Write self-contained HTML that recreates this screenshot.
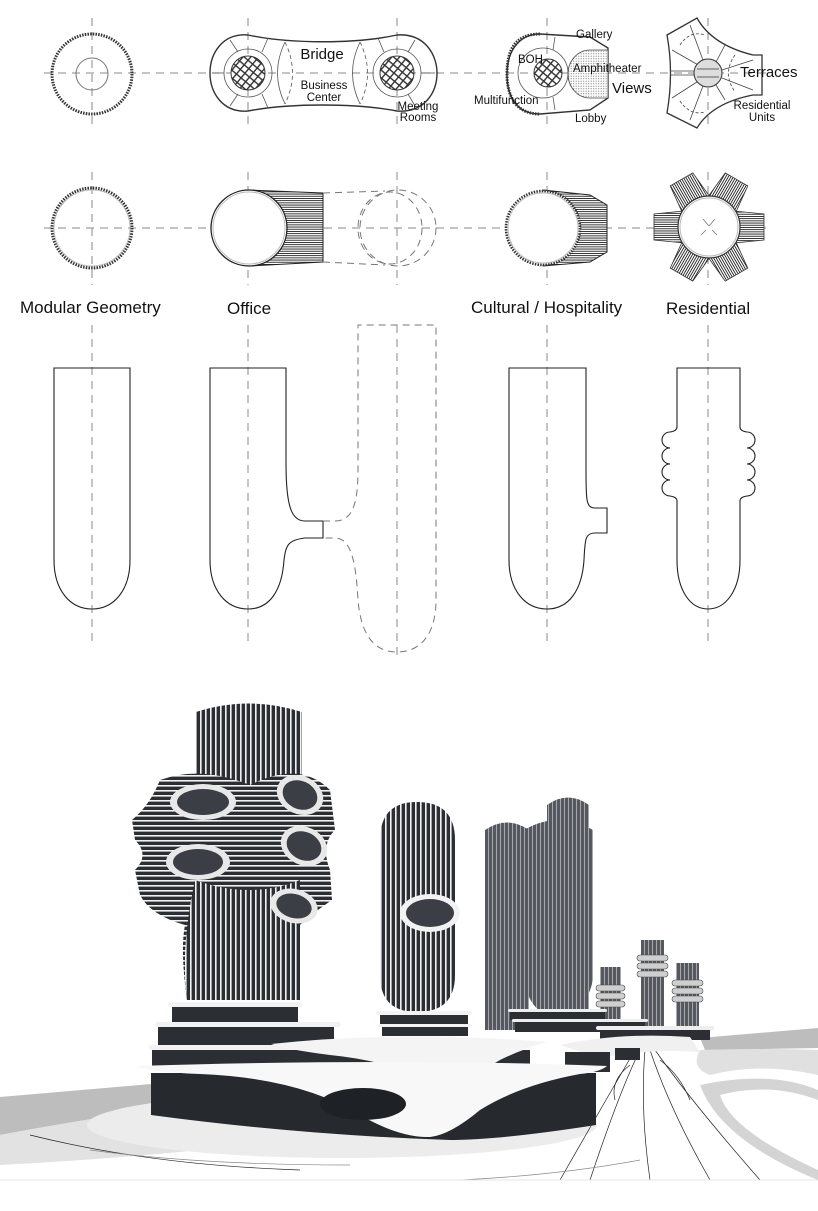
<!DOCTYPE html>
<html><head><meta charset="utf-8"><style>
html,body{margin:0;padding:0;background:#fff;}
svg{display:block;font-family:"Liberation Sans",Arial,sans-serif;}
</style></head><body>
<svg width="818" height="1211" viewBox="0 0 818 1211" xmlns="http://www.w3.org/2000/svg">
<defs>
<pattern id="vs" width="5" height="10" patternUnits="userSpaceOnUse"><rect width="5" height="10" fill="#2b2e33"/><rect width="1.6" height="10" fill="#f2f2f2"/></pattern>
<pattern id="hs" width="10" height="5" patternUnits="userSpaceOnUse"><rect width="10" height="5" fill="#2b2e33"/><rect width="10" height="1.6" fill="#f2f2f2"/></pattern>
<pattern id="gs" width="4" height="10" patternUnits="userSpaceOnUse"><rect width="4" height="10" fill="#55585e"/><rect width="1" height="10" fill="#a5a8ad"/></pattern>
<pattern id="hl" width="10" height="2.2" patternUnits="userSpaceOnUse"><rect width="10" height="2.2" fill="#fff"/><rect width="10" height="0.9" fill="#222"/></pattern>
<pattern id="xh" width="6" height="6" patternUnits="userSpaceOnUse" patternTransform="rotate(40)"><rect width="6" height="6" fill="#fff"/><rect width="6" height="1.4" fill="#333"/><rect width="1.4" height="6" fill="#333"/></pattern>
<pattern id="dots" width="2.5" height="2.5" patternUnits="userSpaceOnUse"><rect width="2.5" height="2.5" fill="#fff"/><circle cx="1.2" cy="1.2" r="0.6" fill="#888"/></pattern>
</defs>

<!-- dashed axes -->
<g stroke="#8a8a8a" stroke-width="1" stroke-dasharray="8 6" fill="none">
<line x1="44" y1="73" x2="770" y2="73"/>
<line x1="44" y1="228" x2="770" y2="228"/>
<line x1="92" y1="18" x2="92" y2="130"/><line x1="248" y1="18" x2="248" y2="130"/><line x1="397" y1="18" x2="397" y2="130"/><line x1="547" y1="18" x2="547" y2="130"/><line x1="708" y1="18" x2="708" y2="130"/>
<line x1="92" y1="172" x2="92" y2="285"/><line x1="248" y1="172" x2="248" y2="285"/><line x1="397" y1="172" x2="397" y2="285"/><line x1="547" y1="172" x2="547" y2="285"/><line x1="708" y1="172" x2="708" y2="285"/>
<line x1="92" y1="325" x2="92" y2="645"/><line x1="248" y1="325" x2="248" y2="645"/><line x1="397" y1="325" x2="397" y2="655"/><line x1="547" y1="325" x2="547" y2="645"/><line x1="708" y1="325" x2="708" y2="645"/>
</g>

<!-- ROW 1 plans -->
<circle cx="92" cy="74" r="40" fill="none" stroke="#333" stroke-width="3" stroke-dasharray="1.5 1.2"/>
<circle cx="92" cy="74" r="16" fill="none" stroke="#777" stroke-width="1"/>

<path d="M248,35 C290,44 355,44 397,35 C425,33 437,55 437,73 C437,92 425,113 397,111 C355,103 290,103 248,111 C222,113 210,92 210,73 C210,54 222,33 248,35 Z" fill="none" stroke="#333" stroke-width="1.4"/>
<g stroke="#555" stroke-width="0.8" fill="none">
<path d="M285,42 Q270,73 285,104"/><path d="M360,42 Q375,73 360,104" stroke-dasharray="4 3"/>
<path d="M285,42 Q300,73 285,104" stroke-dasharray="4 3"/><path d="M360,42 Q345,73 360,104"/>
<line x1="230" y1="40" x2="238" y2="52"/><line x1="268" y1="38" x2="262" y2="52"/><line x1="212" y1="73" x2="224" y2="73"/><line x1="230" y1="106" x2="238" y2="94"/><line x1="268" y1="108" x2="262" y2="94"/>
<line x1="415" y1="40" x2="408" y2="52"/><line x1="378" y1="38" x2="384" y2="52"/><line x1="435" y1="73" x2="421" y2="73"/><line x1="415" y1="106" x2="408" y2="94"/>
<circle cx="248" cy="73" r="24"/><circle cx="397" cy="73" r="24"/>
</g>
<circle cx="248" cy="73" r="17" fill="url(#xh)" stroke="#333"/>
<circle cx="397" cy="73" r="17" fill="url(#xh)" stroke="#333"/>
<g font-size="15" fill="#111" text-anchor="middle"><text x="322" y="59">Bridge</text></g>
<g font-size="11.5" fill="#111" text-anchor="middle"><text x="324" y="89">Business</text><text x="324" y="101">Center</text><text x="418" y="110">Meeting</text><text x="418" y="121">Rooms</text></g>

<path d="M540,34 L590,37 L608,48 L608,98 L590,110 L540,114 C515,114 507,95 507,74 C507,50 520,34 540,34 Z" fill="none" stroke="#333" stroke-width="1.4"/>
<path d="M540,34 C515,34 507,50 507,74 C507,95 515,114 540,114" fill="none" stroke="#333" stroke-width="3" stroke-dasharray="1.5 1.2"/>
<circle cx="543" cy="73" r="25" fill="none" stroke="#555" stroke-width="0.8"/>
<circle cx="548" cy="73" r="14" fill="url(#xh)" stroke="#333"/>
<path d="M608,50 L590,50 A22 24 0 0 0 590 98 L608 98 Z" fill="url(#dots)" stroke="#444" stroke-width="0.8"/>
<g stroke="#555" stroke-width="0.8"><line x1="555" y1="37" x2="553" y2="50"/><line x1="555" y1="110" x2="553" y2="97"/></g>
<g font-size="11.5" fill="#111"><text x="576" y="38">Gallery</text><text x="518" y="63">BOH</text><text x="573" y="72">Amphitheater</text><text x="474" y="104">Multifunction</text><text x="575" y="122">Lobby</text></g>
<text x="612" y="93" font-size="15" fill="#111">Views</text>

<path d="M667,35 L697,18 Q712,45 753,55 L762,55 L762,95 L753,95 Q712,103 697,128 L667,113 Q674,73 667,35 Z" fill="none" stroke="#333" stroke-width="1.3"/>
<g stroke="#444" stroke-width="0.8" fill="none">
<line x1="672" y1="50" x2="700" y2="66"/><line x1="690" y1="25" x2="703" y2="60"/><line x1="725" y1="45" x2="716" y2="62"/><line x1="753" y1="60" x2="722" y2="70"/><line x1="753" y1="90" x2="722" y2="78"/><line x1="725" y1="100" x2="716" y2="85"/><line x1="690" y1="120" x2="703" y2="86"/><line x1="672" y1="98" x2="700" y2="80"/>
<line x1="670" y1="71" x2="694" y2="71"/><line x1="670" y1="75" x2="694" y2="75"/>
<path d="M735,55 Q722,73 735,92" stroke-dasharray="3 2"/><path d="M680,45 Q690,30 705,35" stroke-dasharray="3 2"/><path d="M680,101 Q690,116 705,112" stroke-dasharray="3 2"/>
</g>
<circle cx="708" cy="73" r="14" fill="#ddd" stroke="#333"/>
<g stroke="#333" stroke-width="0.8"><line x1="697" y1="69" x2="719" y2="69"/><line x1="697" y1="77" x2="719" y2="77"/></g>
<text x="740" y="77" font-size="15" fill="#111">Terraces</text>
<g font-size="11.5" fill="#111" text-anchor="middle"><text x="762" y="109">Residential</text><text x="762" y="121">Units</text></g>

<!-- ROW 2 -->
<circle cx="92" cy="228" r="40" fill="none" stroke="#333" stroke-width="3" stroke-dasharray="1.5 1.2"/>
<circle cx="92" cy="228" r="38" fill="none" stroke="#bbb" stroke-width="1"/>

<path d="M249,190 L323,193 L323,262 L249,266 Z" fill="url(#hl)" stroke="#222"/>
<circle cx="249" cy="228" r="38" fill="#fff" stroke="#222" stroke-width="1.3"/>
<circle cx="249" cy="228" r="36" fill="none" stroke="#bbb"/>
<g stroke="#777" stroke-dasharray="7 5" fill="none"><line x1="323" y1="193" x2="385" y2="191"/><line x1="323" y1="262" x2="385" y2="265"/><circle cx="398" cy="228" r="38"/><ellipse cx="390" cy="228" rx="32" ry="36"/></g>

<path d="M543,190 L590,195 L607,205 L607,252 L590,262 L543,266 Z" fill="url(#hl)" stroke="#222"/>
<circle cx="543" cy="228" r="37" fill="#fff" stroke="#333" stroke-width="2.6" stroke-dasharray="1.5 1.2"/>
<circle cx="543" cy="228" r="35" fill="none" stroke="#bbb"/>

<g transform="translate(709,227)">
<g fill="url(#hl)" stroke="#333" stroke-width="0.8">
<path d="M25,-16 L55,-13 L55,13 L25,16 Z"/>
<path d="M25,-16 L55,-13 L55,13 L25,16 Z" transform="rotate(60)"/>
<path d="M25,-16 L55,-13 L55,13 L25,16 Z" transform="rotate(120)"/>
<path d="M25,-16 L55,-13 L55,13 L25,16 Z" transform="rotate(180)"/>
<path d="M25,-16 L55,-13 L55,13 L25,16 Z" transform="rotate(240)"/>
<path d="M25,-16 L55,-13 L55,13 L25,16 Z" transform="rotate(300)"/>
</g>
<circle r="31" fill="#fff" stroke="#333" stroke-width="1.2"/>
<circle r="29" fill="none" stroke="#bbb"/>
<g stroke="#777" stroke-width="0.8"><line x1="-6" y1="-8" x2="0" y2="-1"/><line x1="6" y1="-8" x2="0" y2="-1"/><line x1="-8" y1="8" x2="-3" y2="3"/><line x1="8" y1="8" x2="3" y2="3"/></g>
</g>

<g font-size="17" fill="#111"><text x="20" y="313">Modular Geometry</text><text x="227" y="314">Office</text><text x="471" y="313">Cultural / Hospitality</text><text x="666" y="314">Residential</text></g>

<!-- ELEVATIONS -->
<g fill="none" stroke="#222" stroke-width="1.1">
<path d="M54,368 L54,560 C54,590 70,609 92,609 C114,609 130,590 130,560 L130,368 Z"/>
<path d="M210,368 L210,560 C210,590 226,609 248,609 C270,609 282,590 284,560 C286,545 288,540 305,538 L323,538 L323,521 L305,521 C292,521 286,508 286,463 L286,368 Z"/>
<path d="M509,368 L509,560 C509,590 525,609 547,609 C569,609 582,590 584,560 C585,540 585,533 595,533 L607,533 L607,508 L595,508 C586,508 586,500 586,470 L586,368 Z"/>
<path d="M677,368 L677,427 Q677,431 670,432 A8 8 0 0 0 670 448 A8 8 0 0 0 670 464 A8 8 0 0 0 670 480 A8 8 0 0 0 670 496 Q677,497 677,501 L677,560 C677,590 690,609 708,609 C726,609 740,590 740,560 L740,501 Q740,497 747,496 A8 8 0 0 0 747 480 A8 8 0 0 0 747 464 A8 8 0 0 0 747 448 A8 8 0 0 0 747 432 Q740,431 740,427 L740,368 Z"/>
</g>
<g fill="none" stroke="#777" stroke-width="1" stroke-dasharray="7 5">
<path d="M323,521 L335,521 C352,521 358,505 358,470 L358,325 L436,325 L436,600 C436,635 420,652 397,652 C374,652 361,635 358,600 C356,565 352,538 335,538 L323,538"/>
</g>

<!-- RENDER -->
<!-- ground -->
<path d="M0,1097 L151,1084 L151,1110 Q80,1120 0,1135 Z" fill="#bdbdbd"/>
<path d="M0,1135 Q80,1120 151,1110 L200,1150 Q100,1160 0,1165 Z" fill="#e2e2e2"/>
<ellipse cx="342" cy="1125" rx="255" ry="33" fill="#ececec"/>
<path d="M700,1038 L818,1028 L818,1048 L705,1050 Z" fill="#bdbdbd"/>
<path d="M700,1050 Q770,1048 818,1050 L818,1075 Q760,1062 710,1075 Q690,1068 700,1050 Z" fill="#e0e0e0"/>
<path d="M700,1085 Q770,1070 818,1090 L818,1100 Q770,1082 720,1095 Q730,1130 818,1170 L818,1180 Q720,1140 700,1085 Z" fill="#d4d4d4"/>
<g stroke="#222" stroke-width="0.7" fill="none">
<path d="M640,1050 Q620,1090 590,1180"/><path d="M645,1050 Q640,1110 650,1180"/><path d="M650,1050 Q670,1110 710,1180"/><path d="M655,1050 Q690,1100 760,1180"/><path d="M635,1050 Q600,1110 560,1180"/>
<path d="M630,1065 Q610,1080 615,1100"/><path d="M660,1060 Q680,1075 690,1100"/>
<path d="M30,1135 Q150,1165 300,1170"/>
<path d="M90,1150 Q200,1165 350,1165" stroke="#888"/>
<path d="M460,1180 Q560,1175 640,1160" stroke="#888"/>
</g>
<line x1="0" y1="1180" x2="818" y2="1180" stroke="#e4e4e4" stroke-width="1"/>

<!-- gray cluster -->
<path d="M485,830 Q507,815 529,830 L529,1030 L485,1030 Z" fill="url(#gs)"/>
<path d="M547,805 Q568,790 589,805 L589,1015 L547,1015 Z" fill="url(#gs)"/>
<path d="M524,830 Q558,810 593,830 L593,980 Q585,1015 558,1018 Q530,1015 524,980 Z" fill="url(#gs)"/>
<!-- small towers -->
<rect x="600" y="967" width="21" height="60" fill="url(#gs)"/>
<rect x="641" y="940" width="23" height="90" fill="url(#gs)"/>
<rect x="676" y="963" width="23" height="67" fill="url(#gs)"/>
<g fill="#cfcfcf" stroke="#444" stroke-width="0.6">
<rect x="596" y="985" width="29" height="6" rx="3"/><rect x="596" y="993" width="29" height="6" rx="3"/><rect x="596" y="1001" width="29" height="6" rx="3"/>
<rect x="637" y="955" width="31" height="6" rx="3"/><rect x="637" y="963" width="31" height="6" rx="3"/><rect x="637" y="971" width="31" height="6" rx="3"/>
<rect x="672" y="980" width="31" height="6" rx="3"/><rect x="672" y="988" width="31" height="6" rx="3"/><rect x="672" y="996" width="31" height="6" rx="3"/>
</g>
<!-- back platforms -->
<g>
<rect x="510" y="1012" width="95" height="8" fill="#2b2e33"/><rect x="508" y="1009" width="99" height="3" rx="1.5" fill="#eee"/>
<rect x="515" y="1022" width="130" height="10" fill="#2b2e33"/><rect x="512" y="1019" width="136" height="3" rx="1.5" fill="#eee"/>
<rect x="600" y="1030" width="110" height="10" fill="#2b2e33"/><rect x="596" y="1026" width="118" height="4" rx="2" fill="#eee"/>
<path d="M560,1045 Q620,1032 690,1037 L700,1052 Q650,1048 600,1058 Z" fill="#f0f0f0"/>
<rect x="565" y="1052" width="45" height="20" fill="#2b2e33"/>
<rect x="615" y="1048" width="25" height="12" fill="#2b2e33"/>
</g>

<!-- tower 2 -->
<path d="M380,840 Q380,802 417,802 Q455,802 455,840 L455,975 Q455,1012 417,1012 Q380,1012 380,975 Z" fill="url(#vs)"/>
<ellipse cx="430" cy="913" rx="30" ry="19" fill="#f2f2f2"/>
<ellipse cx="430" cy="913" rx="24" ry="14" fill="#3b3e44"/>
<rect x="380" y="1015" width="88" height="9" fill="#2b2e33"/><rect x="376" y="1011" width="96" height="4" rx="2" fill="#f2f2f2"/>
<rect x="382" y="1027" width="86" height="9" fill="#2b2e33"/><rect x="378" y="1024" width="94" height="3" rx="1.5" fill="#f2f2f2"/>

<!-- big tower -->
<path d="M196,712 Q249,695 302,712 L302,790 L196,790 Z" fill="url(#vs)"/>
<path d="M160,780 Q200,765 250,785 Q300,760 330,790 L335,830 Q320,845 330,870 L332,900 Q310,915 300,925 L300,1000 L187,1000 Q180,950 185,925 Q150,915 140,895 L135,870 Q150,855 135,840 L132,820 Q150,805 160,780 Z" fill="url(#hs)"/>
<path d="M195,880 Q250,900 300,880 L300,1000 L187,1000 Q180,950 195,880 Z" fill="url(#vs)"/>
<g>
<ellipse cx="203" cy="802" rx="33" ry="18" fill="#e8e8e8"/><ellipse cx="203" cy="802" rx="26" ry="13" fill="#3b3e44"/>
<ellipse cx="300" cy="795" rx="24" ry="19" fill="#e8e8e8" transform="rotate(25 300 795)"/><ellipse cx="300" cy="795" rx="18" ry="14" fill="#3b3e44" transform="rotate(25 300 795)"/>
<ellipse cx="198" cy="862" rx="32" ry="18" fill="#e8e8e8"/><ellipse cx="198" cy="862" rx="25" ry="13" fill="#3b3e44"/>
<ellipse cx="304" cy="846" rx="24" ry="19" fill="#e8e8e8" transform="rotate(25 304 846)"/><ellipse cx="304" cy="846" rx="18" ry="14" fill="#3b3e44" transform="rotate(25 304 846)"/>
<ellipse cx="294" cy="906" rx="24" ry="17" fill="#e8e8e8" transform="rotate(15 294 906)"/><ellipse cx="294" cy="906" rx="18" ry="12" fill="#3b3e44" transform="rotate(15 294 906)"/>
</g>
<!-- big platforms -->
<rect x="172" y="1006" width="126" height="17" fill="#2b2e33"/><rect x="168" y="1002" width="134" height="5" rx="2.5" fill="#f2f2f2"/>
<rect x="158" y="1027" width="176" height="19" fill="#2b2e33"/><rect x="155" y="1022" width="186" height="5" rx="2.5" fill="#f2f2f2"/>
<rect x="152" y="1050" width="170" height="20" fill="#2b2e33"/><rect x="149" y="1045" width="180" height="5" rx="2.5" fill="#f2f2f2"/>
<!-- mid slab -->
<path d="M315,1050 L530,1050 L530,1080 L315,1080 Z" fill="#2b2e33"/>
<path d="M271,1044 Q400,1030 547,1042 Q520,1050 500,1060 Q460,1085 420,1076 Q380,1060 330,1055 Q290,1050 271,1044 Z" fill="#f4f4f4"/>
<!-- base -->
<path d="M151,1073 L596,1073 L596,1125 Q500,1140 450,1140 Q300,1135 151,1115 Z" fill="#26292e"/>
<path d="M136,1066 Q400,1058 607,1066 Q600,1072 580,1074 Q520,1085 480,1110 Q450,1135 430,1137 Q400,1138 360,1115 Q300,1078 200,1074 Q150,1072 136,1066 Z" fill="#f8f8f8"/>
<ellipse cx="363" cy="1104" rx="43" ry="16" fill="#1e2125"/>
</svg>
</body></html>
